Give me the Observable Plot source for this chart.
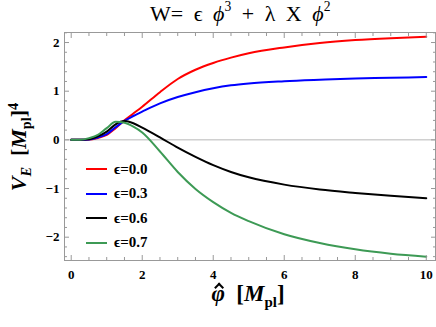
<!DOCTYPE html>
<html><head><meta charset="utf-8">
<script src="https://cdn.jsdelivr.net/npm/d3@7"></script>
<script src="https://cdn.jsdelivr.net/npm/@observablehq/plot@0.6"></script>
<style>
body{margin:0;background:#fff;}
#wrap{position:relative;width:436px;height:327px;font-family:"Liberation Serif","DejaVu Serif",serif;color:#000;overflow:hidden;}
#chart{position:absolute;left:0;top:0;}
#title{position:absolute;left:150px;top:1px;font-family:"Liberation Serif","DejaVu Serif",serif;font-size:22px;white-space:nowrap;word-spacing:5px;}
#title sup{font-size:62%;vertical-align:0.7em;line-height:0;}
#ylab{position:absolute;left:19px;top:147px;transform:translate(-50%,-50%) rotate(-90deg);font-size:22px;font-weight:bold;white-space:nowrap;}
#xlab{position:absolute;left:248px;top:282px;transform:translateX(-50%);font-size:23px;font-weight:bold;white-space:nowrap;line-height:1;}
.hat{position:relative;display:inline-block;}
.hat .h{position:absolute;left:50%;top:2px;width:5px;height:5px;border-top:2px solid #000;border-left:2px solid #000;transform:translateX(-40%) rotate(45deg);}
#legend{position:absolute;left:86px;top:157px;font-size:15px;font-weight:bold;}
#legend .row{display:flex;align-items:center;height:24.5px;}
#legend .sw{width:21px;height:2px;margin-right:7px;}
sub,sup{font-size:65%;line-height:0;}
</style>
</head><body>
<div id="wrap">
<div id="chart"></div>
<div id="title">W= ϵ <i>ϕ</i><sup>3</sup> + λ X <i>ϕ</i><sup>2</sup></div>
<div id="ylab"><i>V</i><sub><i>E</i></sub> &nbsp;[<i>M</i><sub>pl</sub>]<sup>4</sup></div>
<div id="xlab"><span class="hat"><i>φ</i><span class="h"></span></span> &nbsp;[<i>M</i><sub>pl</sub>]</div>
<div id="legend"></div>
</div>
<script>
const xs    = [0, 0.25, 0.5, 0.75, 1, 1.25, 1.5, 1.75, 2, 2.5, 3, 3.5, 4, 4.5, 5, 6, 7, 8, 9, 10];
const eps00 = [0, 0, 0.005, 0.04, 0.10, 0.24, 0.40, 0.54, 0.68, 0.98, 1.25, 1.44, 1.58, 1.69, 1.78, 1.90, 1.99, 2.05, 2.09, 2.12];
const eps03 = [0, 0, 0.006, 0.05, 0.12, 0.26, 0.39, 0.49, 0.58, 0.75, 0.88, 0.98, 1.06, 1.12, 1.16, 1.205, 1.235, 1.26, 1.275, 1.29];
const eps06 = [0, 0, 0.01, 0.07, 0.17, 0.32, 0.385, 0.34, 0.25, 0.05, -0.16, -0.35, -0.52, -0.66, -0.77, -0.92, -1.02, -1.09, -1.15, -1.20];
const eps07 = [0, 0.002, 0.035, 0.10, 0.24, 0.37, 0.35, 0.27, 0.15, -0.24, -0.66, -1.01, -1.28, -1.50, -1.67, -1.94, -2.12, -2.25, -2.34, -2.40];
const seriesNames  = ["ϵ=0.0", "ϵ=0.3", "ϵ=0.6", "ϵ=0.7"];
const seriesColors = ["#ff0000", "#0000ff", "#000000", "#3d9a55"];
const majorX = [0, 2, 4, 6, 8, 10];
const majorY = [-2, -1, 0, 1, 2];

const minorX = d3.range(0, 10.01, 0.5).filter(v => Math.abs(v % 2) > 1e-6);
const minorY = d3.range(-2.4, 2.21, 0.2).map(v => Math.round(v * 10) / 10).filter(v => Math.abs(v - Math.round(v)) > 1e-6);

const rows = [];
[eps00, eps03, eps06, eps07].forEach((arr, i) => arr.forEach((v, j) => rows.push({x: xs[j], v, s: seriesNames[i]})));

const gray = "#999";
const font = {fontSize: 13, fontWeight: "bold", fontFamily: "Liberation Serif, serif", fill: "#000"};
const tickOnly = {fill: "none", label: null, stroke: gray};

const plot = Plot.plot({
  width: 436, height: 327,
  marginLeft: 64, marginRight: 1, marginTop: 32, marginBottom: 67,
  x: {domain: [-0.189, 10.26]},
  y: {domain: [-2.479, 2.206]},
  color: {domain: seriesNames, range: seriesColors},
  style: {background: "#fff", overflow: "visible"},
  marks: [
    Plot.ruleY([0], {stroke: "#b8b8b8", strokeWidth: 1}),
    Plot.line(rows, {x: "x", y: "v", stroke: "s", strokeWidth: 2, curve: "monotone-x"}),
    Plot.frame({stroke: gray}),
    Plot.axisX(majorX, {anchor: "bottom", tickSize: -5, ...tickOnly}),
    Plot.axisX(minorX, {anchor: "bottom", tickSize: -3, ...tickOnly}),
    Plot.axisX(majorX, {anchor: "top", tickSize: -5, ...tickOnly}),
    Plot.axisX(minorX, {anchor: "top", tickSize: -3, ...tickOnly}),
    Plot.axisY(majorY, {anchor: "left", tickSize: -5, ...tickOnly}),
    Plot.axisY(minorY, {anchor: "left", tickSize: -3, ...tickOnly}),
    Plot.axisY(majorY, {anchor: "right", tickSize: -5, ...tickOnly}),
    Plot.axisY(minorY, {anchor: "right", tickSize: -3, ...tickOnly}),
    Plot.axisX(majorX, {anchor: "bottom", tickSize: 0, tickPadding: 9, label: null, tickFormat: d => String(d), ...font}),
    Plot.axisY(majorY, {anchor: "left", tickSize: 0, tickPadding: 5, label: null, tickFormat: d => d < 0 ? "\u2212" + (-d) : String(d), ...font})
  ]
});
document.getElementById("chart").appendChild(plot);

const legend = document.getElementById("legend");
seriesNames.forEach((n, i) => {
  const row = document.createElement("div");
  row.className = "row";
  row.innerHTML = `<span class="sw" style="background:${seriesColors[i]}"></span><span>${n}</span>`;
  legend.appendChild(row);
});
</script>
</body></html>
